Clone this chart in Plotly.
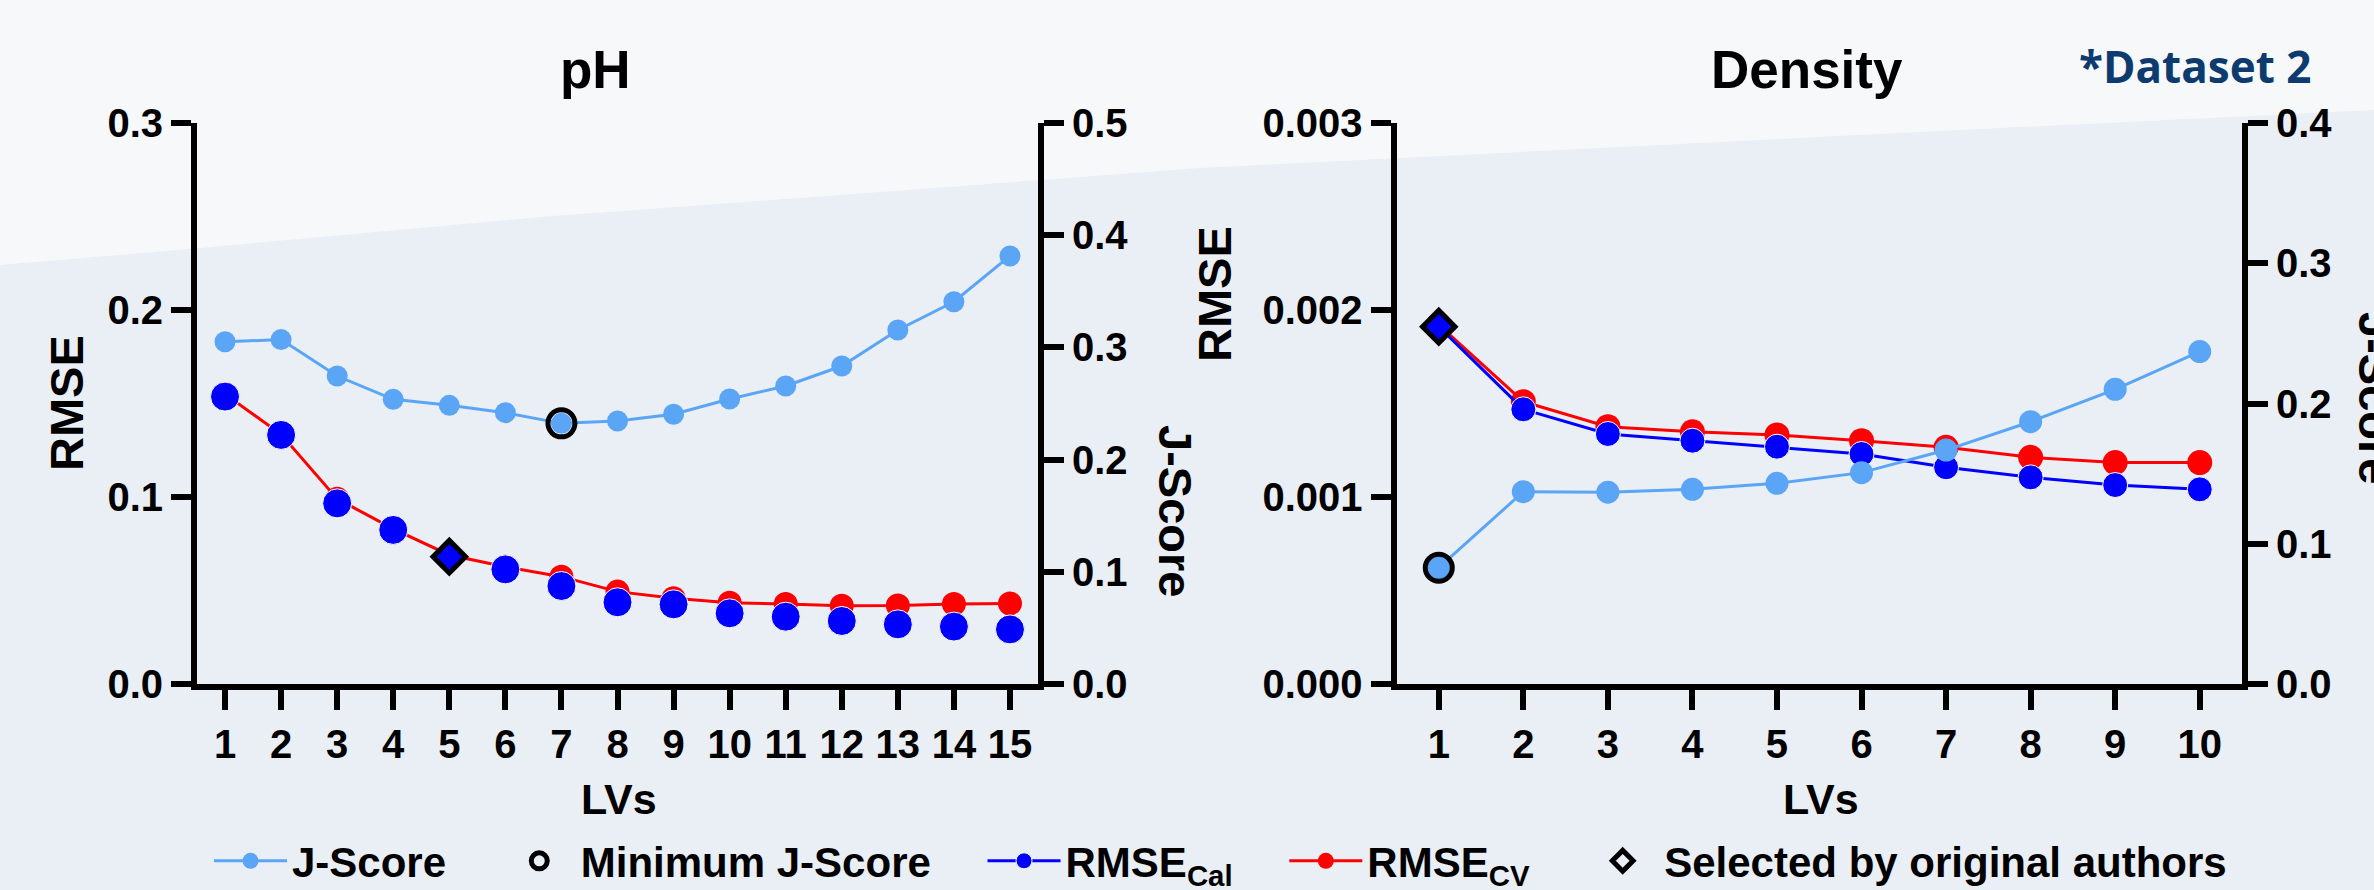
import plotly.graph_objects as go

W, H = 2374, 890
FONT = "Liberation Sans, Arial, Helvetica, sans-serif"

# ---------------- data ----------------
LV_PH = list(range(1, 16))
J_PH = [0.305, 0.307, 0.2745, 0.2537, 0.2484, 0.2418, 0.2323, 0.2344, 0.2404,
        0.254, 0.2656, 0.2834, 0.3155, 0.3407, 0.3815]
RMSE_CAL_PH = [0.1537, 0.1332, 0.0966, 0.0824, 0.0681, 0.0613, 0.0524, 0.0437,
               0.0426, 0.0378, 0.036, 0.0337, 0.0319, 0.0307, 0.0292]
RMSE_CV_PH = [0.155, 0.1335, 0.099, 0.083, 0.069, 0.0627, 0.0574, 0.0494,
              0.0458, 0.0435, 0.0428, 0.0419, 0.042, 0.0428, 0.0431]
SELECTED_PH = 5

LV_DEN = list(range(1, 11))
J_DEN = [0.0829, 0.1371, 0.1368, 0.1388, 0.1431, 0.1507, 0.1668, 0.187, 0.2101, 0.2370]
RMSE_CAL_DEN = [0.001911, 0.001469, 0.001337, 0.001301, 0.001269, 0.00123,
                0.001159, 0.001105, 0.001064, 0.001041]
RMSE_CV_DEN = [0.00192, 0.00151, 0.001376, 0.001349, 0.001332, 0.001301,
               0.001266, 0.001212, 0.001184, 0.001184]
SELECTED_DEN = 1

TITLES = ["pH", "Density"]
NOTE = "*Dataset 2"
X_TITLE = "LVs"
Y_TITLE = "RMSE"
Y2_TITLE = "J-Score"
LEGEND_NAMES = ["J-Score", "Minimum J-Score", "RMSE<sub>Cal</sub>",
                "RMSE<sub>CV</sub>", "Selected by original authors"]

# ---------------- style ----------------
C_J = "#5aa5f6"
C_CAL = "#0000ff"
C_CV = "#ff0000"
PAD = "\u00a0" * 4  # spacing after legend entries


def px_x(p):
    return p / W


def px_y(p):
    return 1 - p / H


fig = go.Figure()


def add_panel(lv, j, cal, cv, sel, xa, ya, ya2, cal_lines, cal_size, cv_size, j_size, first):
    # RMSE CV
    fig.add_trace(go.Scatter(
        x=lv, y=cv, xaxis=xa, yaxis=ya, mode="lines+markers",
        line=dict(color=C_CV, width=3), marker=dict(color=C_CV, size=cv_size, opacity=1),
        name=LEGEND_NAMES[3] + PAD, legendrank=4, showlegend=first, cliponaxis=False))
    # RMSE Cal (hide circle under the selected diamond)
    sizes = [0 if v == sel else cal_size for v in lv]
    fig.add_trace(go.Scatter(
        x=lv, y=cal, xaxis=xa, yaxis=ya,
        mode="lines+markers" if cal_lines else "markers",
        line=dict(color=C_CAL, width=3), marker=dict(color=C_CAL, size=sizes, opacity=1),
        name=LEGEND_NAMES[2] + PAD, legendrank=3, showlegend=not first, cliponaxis=False))
    # selected by authors
    si = lv.index(sel)
    fig.add_trace(go.Scatter(
        x=[sel], y=[cal[si]], xaxis=xa, yaxis=ya, mode="markers",
        marker=dict(symbol="diamond", color=C_CAL, size=25, opacity=1),
        showlegend=False, hoverinfo="skip", cliponaxis=False))
    fig.add_trace(go.Scatter(
        x=[sel], y=[cal[si]], xaxis=xa, yaxis=ya, mode="markers",
        marker=dict(symbol="diamond-open", color="black", size=25, opacity=1,
                    line=dict(width=5)),
        name=LEGEND_NAMES[4], legendrank=5, showlegend=first, cliponaxis=False))
    # J-score
    fig.add_trace(go.Scatter(
        x=lv, y=j, xaxis=xa, yaxis=ya2, mode="lines+markers",
        line=dict(color=C_J, width=3), marker=dict(color=C_J, size=j_size, opacity=1),
        name=LEGEND_NAMES[0] + PAD, legendrank=1, showlegend=first, cliponaxis=False))
    mi = j.index(min(j))
    fig.add_trace(go.Scatter(
        x=[lv[mi]], y=[j[mi]], xaxis=xa, yaxis=ya2, mode="markers",
        marker=dict(symbol="circle-open", color="black", size=27, opacity=1,
                    line=dict(width=5)),
        name=LEGEND_NAMES[1] + PAD, legendrank=2, showlegend=first, cliponaxis=False))


add_panel(LV_PH, J_PH, RMSE_CAL_PH, RMSE_CV_PH, SELECTED_PH, "x", "y", "y2",
          False, 29, 24, 21, True)
add_panel(LV_DEN, J_DEN, RMSE_CAL_DEN, RMSE_CV_DEN, SELECTED_DEN, "x2", "y3", "y4",
          True, 25, 25, 23, False)

tickfont = dict(family=FONT, size=40, color="black", weight="bold")
ax = dict(showgrid=False, zeroline=False, showline=True, linecolor="black",
          linewidth=6, ticks="outside", ticklen=20, tickwidth=6, tickcolor="black",
          tickfont=tickfont, fixedrange=True)

ydom = [px_y(684), px_y(123)]
fig.update_layout(
    width=W, height=H,
    margin=dict(l=0, r=0, t=0, b=0, autoexpand=False),
    paper_bgcolor="#f7f8fa", plot_bgcolor="rgba(0,0,0,0)",
    xaxis=dict(ax, domain=[px_x(197), px_x(1038)], range=[0.5, 15.5],
               tickmode="array", tickvals=LV_PH, anchor="y"),
    yaxis=dict(ax, domain=ydom, range=[0, 0.3], dtick=0.1, tickformat=".1f", anchor="x"),
    yaxis2=dict(ax, overlaying="y", side="right", anchor="x", range=[0, 0.5],
                dtick=0.1, tickformat=".1f"),
    xaxis2=dict(ax, domain=[px_x(1396.5), px_x(2242)], range=[0.5, 10.5],
                tickmode="array", tickvals=LV_DEN, anchor="y3"),
    yaxis3=dict(ax, domain=ydom, range=[0, 0.003], dtick=0.001, tickformat=".3f", anchor="x2"),
    yaxis4=dict(ax, overlaying="y3", side="right", anchor="x2", range=[0, 0.4],
                dtick=0.1, tickformat=".1f"),
    legend=dict(orientation="h", x=px_x(209), xanchor="left", y=px_y(861),
                yanchor="middle", bgcolor="rgba(0,0,0,0)", itemwidth=73,
                font=dict(family=FONT, size=42, color="black", weight="bold")),
    showlegend=True,
)

# background band (decoration)
bpts = [(0, 265), (200, 248), (540, 217), (840, 195), (1200, 168), (1600, 148),
        (2000, 128), (2374, 110)]
path = "M0,0 " + " ".join(f"L{px_x(a):.5f},{px_y(b):.5f}" for a, b in bpts) + " L1,0 Z"
fig.add_shape(type="path", path=path, xref="paper", yref="paper",
              fillcolor="#eaeff6", line=dict(width=0), layer="below")


def ann(text, xp, yp, size, angle=0, color="black", family=FONT):
    fig.add_annotation(text=text, x=px_x(xp), y=px_y(yp), xref="paper", yref="paper",
                       xanchor="center", yanchor="middle", showarrow=False,
                       textangle=angle,
                       font=dict(family=family, size=size, color=color, weight="bold"))


ann(TITLES[0], 596, 69, 53)
ann(TITLES[1], 1807, 69, 53)
ann(NOTE, 2195, 66, 44, color="#0d3b70", family="Open Sans, sans-serif")
ann(Y_TITLE, 66, 403, 47, angle=-90)
ann(Y_TITLE, 1214, 294, 47, angle=-90)
ann(Y2_TITLE, 1176, 511, 47, angle=90)
ann(Y2_TITLE, 2376, 398, 47, angle=90)
ann(X_TITLE, 619, 799, 43)
ann(X_TITLE, 1821, 799, 43)

fig.write_html("out.html")
